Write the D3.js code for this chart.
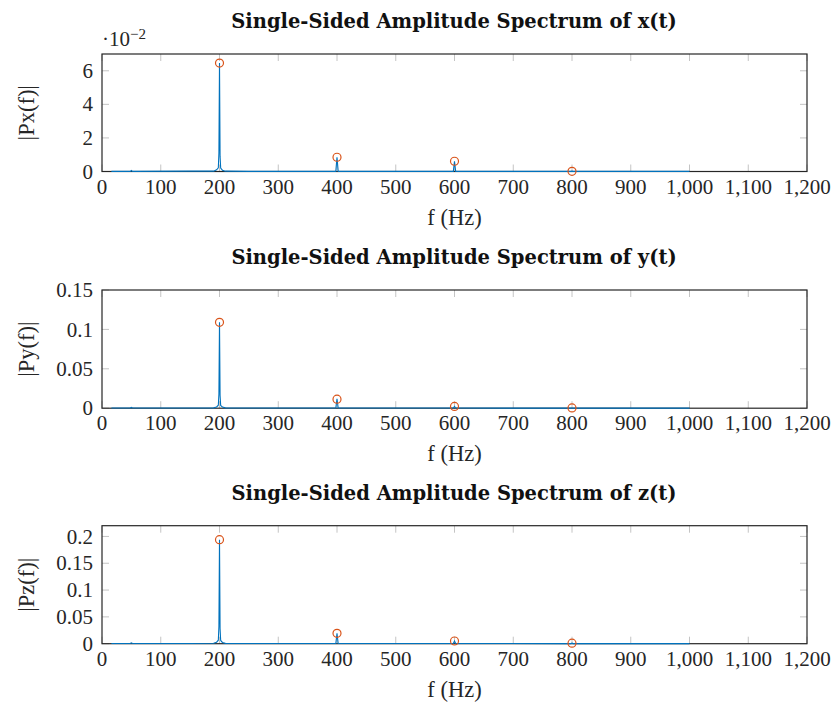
<!DOCTYPE html>
<html>
<head>
<meta charset="utf-8">
<script src="https://cdn.jsdelivr.net/npm/d3@7"></script>
<style>
  body { margin: 0; background: #fff; }
  text { font-family: "Liberation Serif", "DejaVu Serif", serif; fill: #262626; }
</style>
</head>
<body>
<div id="chart"></div>
<script>
// spectrum sample frequencies (Hz)
var freqs = [16, 48, 50, 52, 150, 190, 195, 198, 199, 200, 201, 202, 205, 210, 250,
             398, 400, 402, 598, 600, 602, 798, 800, 802, 1000];

// single-sided amplitude |P(f)| for each signal
var ampX = [0.0001, 0.0001, 0.0006, 0.0001, 0.0002, 0.0002, 0.0010, 0.0022, 0.011, 0.0646, 0.009, 0.0020, 0.0008, 0.0002, 0.0001,
            0.0001, 0.0085, 0.0001, 0.0001, 0.0061, 0.0001, 0.0001, 0.0002, 0.0001, 0.0001];
var ampY = [0.0002, 0.0002, 0.0010, 0.0002, 0.0003, 0.0004, 0.0016, 0.0038, 0.018, 0.109, 0.016, 0.0034, 0.0014, 0.0004, 0.0002,
            0.0002, 0.012, 0.0002, 0.0002, 0.0022, 0.0002, 0.0001, 0.0003, 0.0001, 0.0001];
var ampZ = [0.0003, 0.0003, 0.0016, 0.0003, 0.0005, 0.0007, 0.0028, 0.0065, 0.032, 0.194, 0.028, 0.0060, 0.0024, 0.0006, 0.0003,
            0.0003, 0.0194, 0.0003, 0.0003, 0.005, 0.0003, 0.0002, 0.001, 0.0002, 0.0002];

// harmonic peaks marked with circles
var peakFreqs = [200, 400, 600, 800];
var peakX = [0.0646, 0.0085, 0.0061, 0.0001];
var peakY = [0.109, 0.0115, 0.0022, 0.0003];
var peakZ = [0.194, 0.0194, 0.005, 0.001];

var xTicks = [0, 100, 200, 300, 400, 500, 600, 700, 800, 900, 1000, 1100, 1200];
var yTicksX = [0, 0.02, 0.04, 0.06];
var yTicksY = [0, 0.05, 0.1, 0.15];
var yTicksZ = [0, 0.05, 0.1, 0.15, 0.2];

var panels = [
  {title: "Single-Sided Amplitude Spectrum of x(t)", ylabel: "|Px(f)|", amp: ampX, peaks: peakX,
   yMax: 0.07, yTicks: yTicksX, fmt: function(d) { return d3.format("d")(d * 100); },
   top: 54, bottom: 171.5, exponent: true},
  {title: "Single-Sided Amplitude Spectrum of y(t)", ylabel: "|Py(f)|", amp: ampY, peaks: peakY,
   yMax: 0.15, yTicks: yTicksY, fmt: function(d) { return d === 0 ? "0" : String(d); },
   top: 290, bottom: 408.2},
  {title: "Single-Sided Amplitude Spectrum of z(t)", ylabel: "|Pz(f)|", amp: ampZ, peaks: peakZ,
   yMax: 0.22, yTicks: yTicksZ, fmt: function(d) { return d === 0 ? "0" : String(d); },
   top: 525.7, bottom: 643.7}
];

var width = 834, height = 707;
var left = 102, right = 807;
var blue = "#0072BD", orange = "#D95319";

var svg = d3.select("#chart").append("svg")
    .attr("width", width)
    .attr("height", height);

svg.append("rect").attr("width", width).attr("height", height).attr("fill", "#fff");

var x = d3.scaleLinear().domain([0, 1200]).range([left, right]);

panels.forEach(function(p) {
  var y = d3.scaleLinear().domain([0, p.yMax]).range([p.bottom, p.top]);
  var g = svg.append("g");

  // inner tick marks (top / bottom, left / right)
  g.selectAll(".xtb").data(xTicks).enter().append("line")
      .attr("x1", d => x(d)).attr("x2", d => x(d))
      .attr("y1", p.bottom).attr("y2", p.bottom - 7)
      .attr("stroke", "#c4c4c4").attr("stroke-width", 1);
  g.selectAll(".xtt").data(xTicks).enter().append("line")
      .attr("x1", d => x(d)).attr("x2", d => x(d))
      .attr("y1", p.top).attr("y2", p.top + 7)
      .attr("stroke", "#c4c4c4").attr("stroke-width", 1);
  g.selectAll(".ytl").data(p.yTicks).enter().append("line")
      .attr("x1", left).attr("x2", left + 7)
      .attr("y1", d => y(d)).attr("y2", d => y(d))
      .attr("stroke", "#c4c4c4").attr("stroke-width", 1);
  g.selectAll(".ytr").data(p.yTicks).enter().append("line")
      .attr("x1", right).attr("x2", right - 7)
      .attr("y1", d => y(d)).attr("y2", d => y(d))
      .attr("stroke", "#c4c4c4").attr("stroke-width", 1);

  // axis box
  g.append("rect")
      .attr("x", left).attr("y", p.top)
      .attr("width", right - left).attr("height", p.bottom - p.top)
      .attr("fill", "none").attr("stroke", "#262626").attr("stroke-width", 1.2);

  // tick labels
  g.selectAll(".xl").data(xTicks).enter().append("text")
      .attr("x", d => x(d)).attr("y", p.bottom + 22)
      .attr("text-anchor", "middle")
      .style("font-size", "21px")
      .text(d => d3.format(",")(d));
  g.selectAll(".yl").data(p.yTicks).enter().append("text")
      .attr("x", left - 9).attr("y", d => y(d)).attr("dy", "0.34em")
      .attr("text-anchor", "end")
      .style("font-size", "21px")
      .text(p.fmt);

  // spectrum line
  var line = d3.line()
      .x(function(d, i) { return x(freqs[i]); })
      .y(function(d) { return y(d); });
  g.append("path")
      .datum(p.amp)
      .attr("d", line)
      .attr("fill", "none")
      .attr("stroke", blue)
      .attr("stroke-width", 1.1);

  // peak markers
  g.selectAll(".pk").data(p.peaks).enter().append("circle")
      .attr("cx", function(d, i) { return x(peakFreqs[i]); })
      .attr("cy", d => y(d))
      .attr("r", 4)
      .attr("fill", "none")
      .attr("stroke", orange)
      .attr("stroke-width", 1.2);

  // title
  g.append("text")
      .attr("x", (left + right) / 2 - 0.5).attr("y", p.top - 26)
      .attr("text-anchor", "middle")
      .style("font-family", "'DejaVu Serif', serif")
      .style("font-weight", "bold")
      .style("font-size", "19.5px")
      .style("fill", "#111")
      .text(p.title);

  // x label
  g.append("text")
      .attr("x", (left + right) / 2).attr("y", p.bottom + 53)
      .attr("text-anchor", "middle")
      .style("font-size", "22.5px")
      .text("f (Hz)");

  // y label
  g.append("text")
      .attr("transform", "translate(34," + ((p.top + p.bottom) / 2) + ") rotate(-90)")
      .attr("text-anchor", "middle")
      .style("font-size", "22.5px")
      .text(p.ylabel);

  if (p.exponent) {
    var e = g.append("text")
        .attr("x", left).attr("y", p.top - 8)
        .style("font-size", "21px");
    e.append("tspan").text("\u00b710");
    e.append("tspan").attr("dy", "-0.45em").style("font-size", "15px").text("\u22122");
  }
});
</script>
</body>
</html>
